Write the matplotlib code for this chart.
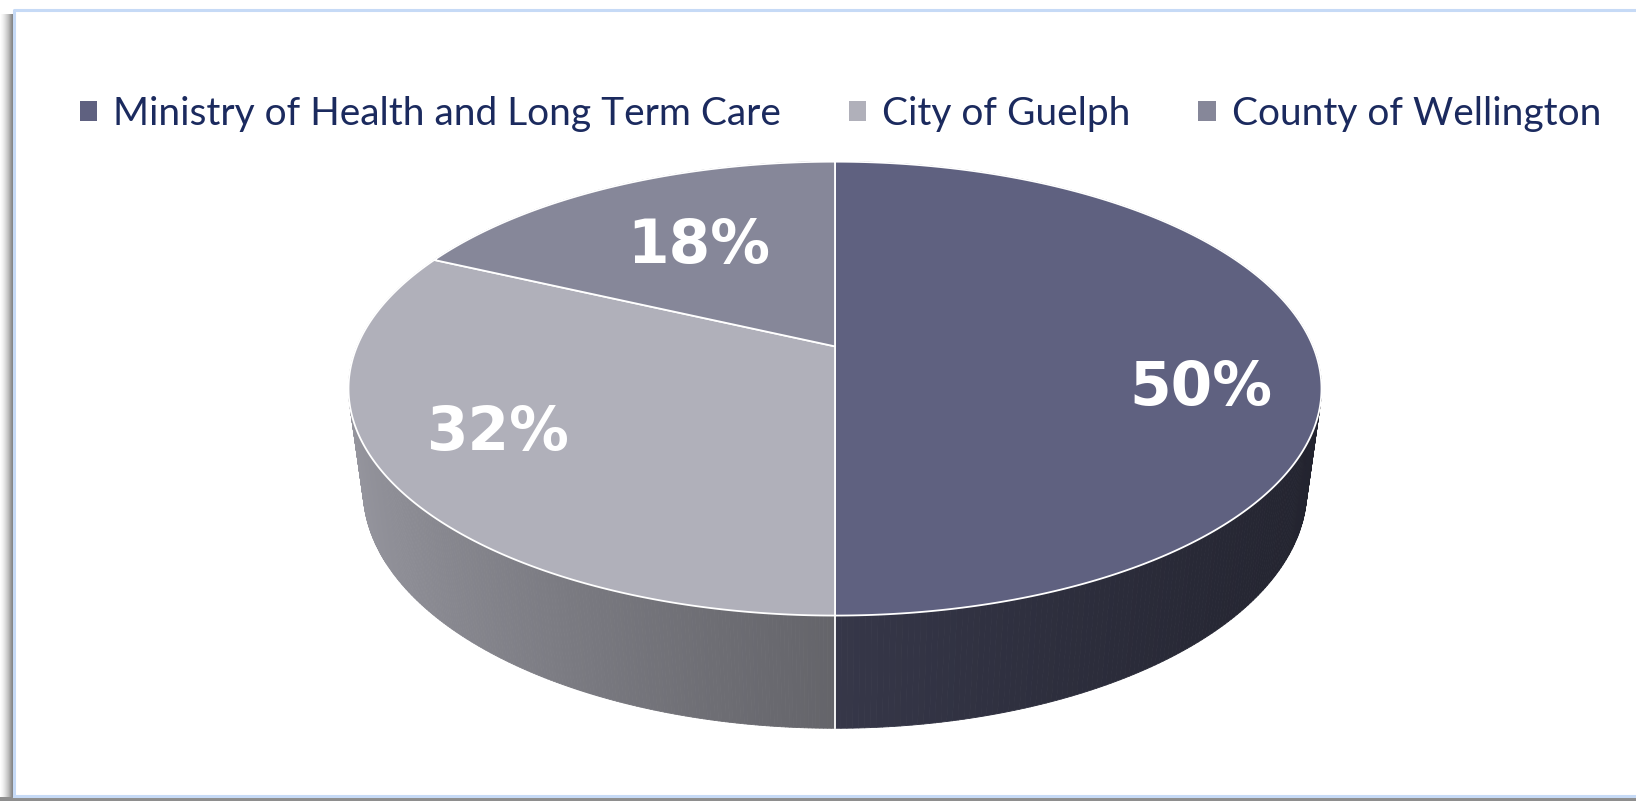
import numpy as np
import matplotlib
matplotlib.use("Agg")
import matplotlib.pyplot as plt
from matplotlib.patches import Polygon, Rectangle, Patch
from matplotlib.collections import PolyCollection
from matplotlib.colors import to_rgb

# ---------------- data ----------------
categories = ["Ministry of Health and Long Term Care", "City of Guelph", "County of Wellington"]
shares = [50, 32, 18]
pct_labels = ["50%", "32%", "18%"]
colors = ["#5F6180", "#B0B0BA", "#868799"]

# ---------------- style / layout ----------------
W, H = 1636, 801
TEXT_COLOR = "#1B2A5E"
label_radius = [0.76, 0.75, 0.60]
label_shift_deg = [-13, -4, -1]

fig = plt.figure(figsize=(W / 100, H / 100), dpi=100)
fig.patch.set_facecolor("white")
ax = fig.add_axes([0, 0, 1, 1])
ax.set_xlim(0, W)
ax.set_ylim(H, 0)
ax.axis("off")

# frame shadow + border
grad = np.linspace(1.0, 0.0, 14)[None, :]
ax.imshow(np.repeat(grad, 10, axis=0), cmap="Greys_r", vmin=-0.65, vmax=1.0,
          extent=(0, 14, 801, 14), aspect="auto", zorder=0, interpolation="bilinear")
ax.add_patch(Rectangle((0, 797), W, 4, facecolor="#8E8E8E", edgecolor="none", zorder=0))
ax.plot([14, 14, W + 5], [796, 10, 10], color="#C6DAF6", lw=2.2, zorder=1, solid_capstyle="butt")
ax.plot([14, W + 5], [796, 796], color="#C6DAF6", lw=2.2, zorder=1)

# projection parameters of the 3D pie (perspective disk)
CX, CY = 835.0, 346.4
A, B, K = 478.0, 219.1, 0.186
DEPTH_Y, DEPTH_W = 103.2, 0.030


def proj(theta, z=0.0, r=1.0):
    u = r * np.cos(theta)
    v = r * np.sin(theta)
    w = 1 + K * v + DEPTH_W * z
    return CX + A * u / w, CY - (B * v - DEPTH_Y * z) / w


def shade(u):
    return 0.57 - 0.25 * u + 0.04 * u ** 2


frac = np.array(shares, dtype=float) / np.sum(shares)
bounds = np.deg2rad(90 - 360 * np.concatenate([[0], np.cumsum(frac)]))

# side walls
quads, qcols, depth = [], [], []
for i in range(len(shares)):
    t = np.linspace(bounds[i], bounds[i + 1], 300)
    base = np.array(to_rgb(colors[i]))
    for j in range(len(t) - 1):
        x0, y0 = proj(t[j]); x1, y1 = proj(t[j + 1])
        x2, y2 = proj(t[j + 1], 1); x3, y3 = proj(t[j], 1)
        quads.append([(x0, y0), (x1, y1), (x2, y2), (x3, y3)])
        tm = 0.5 * (t[j] + t[j + 1])
        qcols.append(np.clip(base * shade(np.cos(tm)), 0, 1))
        depth.append(np.sin(tm))
order = np.argsort(depth)[::-1]
pc = PolyCollection([quads[o] for o in order], facecolors=[qcols[o] for o in order],
                    edgecolors=[qcols[o] for o in order], linewidths=0.6, zorder=2)
ax.add_collection(pc)

# wall boundaries visible in front
for b in bounds[:-1]:
    if np.sin(b) < -0.05:
        xa, ya = proj(b); xb, yb = proj(b, 1)
        ax.plot([xa, xb], [ya, yb], color="white", lw=1.3, zorder=3)

# top face
for i in range(len(shares)):
    t = np.linspace(bounds[i], bounds[i + 1], 400)
    xs, ys = proj(t)
    cx0, cy0 = proj(0.0, 0, 0.0)
    pts = np.column_stack([np.r_[cx0, xs], np.r_[cy0, ys]])
    ax.add_patch(Polygon(pts, closed=True, facecolor=colors[i], edgecolor="white",
                         lw=1.3, joinstyle="round", zorder=4))

# percentage labels
for i in range(len(shares)):
    mid = 0.5 * (bounds[i] + bounds[i + 1]) + np.deg2rad(label_shift_deg[i])
    lx, ly = proj(mid, 0, label_radius[i])
    ax.text(lx, ly + 3, pct_labels[i], color="white", fontsize=43, fontweight="bold",
            family="DejaVu Sans", ha="center", va="center", zorder=5)

# legend
handles = [Patch(facecolor=c, edgecolor="none") for c in colors]
leg = fig.legend(handles, categories, loc="upper left", bbox_to_anchor=(80 / W, 1 - 96 / H),
                 ncol=3, frameon=False, prop={"family": "Lato", "size": 28},
                 handlelength=0.44, handleheight=0.44, handletextpad=0.41,
                 columnspacing=1.75, borderpad=0, borderaxespad=0)
for txt in leg.get_texts():
    txt.set_color(TEXT_COLOR)

fig.savefig("out.png", dpi=100, facecolor="white")
